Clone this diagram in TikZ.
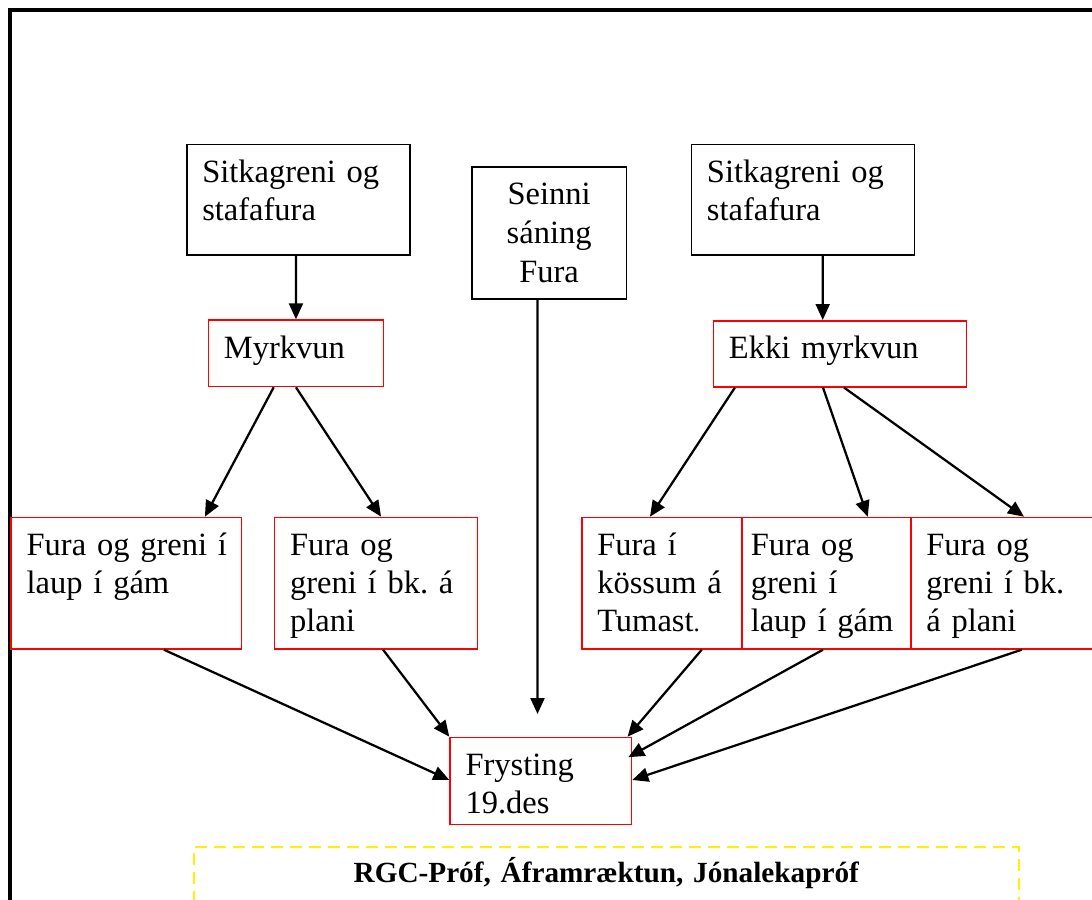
\documentclass[tikz,border=0pt]{standalone}
\usepackage{fontspec}
\setmainfont{Liberation Serif}
\usetikzlibrary{arrows.meta}

\begin{document}
\begin{tikzpicture}[x=0.4pt,y=-0.4pt,
  blackbox/.style={draw,line width=0.6pt,anchor=north west,align=left,inner xsep=6.2pt,inner ysep=6.2pt,text height=9pt,font=\fontsize{13}{15.2}\selectfont},
  redbox/.style={blackbox,draw=red},
  link/.style={-{Triangle[length=6.4pt,width=5.6pt]},line width=0.9pt}]
  \useasboundingbox (0,0) rectangle (1092,899);
  \draw[line width=1.6pt] (9.5,10.5) rectangle (1093.5,910);
  % top row
  \node[blackbox,text width=76.8pt,text depth=22.6pt] (sitkaL) at (186,144) {Sitkagreni og\\stafafura};
  \node[blackbox,align=center,text width=49.5pt,text depth=31.4pt,font=\fontsize{13}{15.6}\selectfont] (seinni) at (471,166) {Seinni\\sáning\\Fura};
  \node[blackbox,text width=76.9pt,text depth=22.6pt] (sitkaR) at (690.7,144) {Sitkagreni og\\stafafura};
  % treatment
  \node[redbox,text width=57.6pt,text depth=5.2pt] (myrk) at (207.7,319.3) {Myrkvun};
  \node[redbox,text width=88.8pt,text depth=5pt] (ekki) at (712.7,320) {Ekki myrkvun};
  % containers
  \node[redbox,text width=79.8pt,text depth=31.2pt] (laupL) at (10.4,516.7) {Fura~og~greni~í\\laup í gám};
  \node[redbox,text width=68.7pt,text depth=31.2pt] (planL) at (273.8,516.7) {Fura og\\greni~í~bk.~á\\plani};
  \node[redbox,text width=51.6pt,text depth=31.2pt] (kassar) at (581,516.7) {Fura í\\kössum~á\\Tumast{\fontsize{10}{12}\selectfont.}};
  \node[redbox,inner xsep=3.6pt,text width=60.4pt,text depth=31.2pt] (laupR) at (741,516.7) {Fura og\\greni í\\laup~í~gám};
  \node[redbox,text width=60.3pt,text depth=31.2pt] (planR) at (910,516.7) {Fura og\\greni~í~bk.\\á plani};
  % freezing and tests
  \node[redbox,text width=60.2pt,text depth=13.5pt] (frost) at (449.3,736.7) {Frysting\\19.des};
  \node[draw=yellow,dash pattern=on 4.8pt off 2.8pt,line width=0.8pt,anchor=north west,align=center,
    inner xsep=6.2pt,inner ysep=5.3pt,text width=317.6pt,text height=9pt,text depth=40pt,
    font=\fontsize{11.7}{14}\selectfont\bfseries] (prof) at (192.8,846) {RGC-Próf, Áframræktun, Jónalekapróf};
  \coordinate (seinniend) at (537.5,714);

  \draw[link] ([xshift=44pt]sitkaL.south west) -- ([xshift=35.3pt]myrk.north west);
  \draw[link] ([xshift=52.8pt]sitkaR.south west) -- ([xshift=44pt]ekki.north west);
  \draw[link] ([xshift=26.4pt]myrk.south west) -- ([xshift=77.8pt]laupL.north west);
  \draw[link] ([xshift=35.3pt]myrk.south west) -- ([xshift=42.9pt]planL.north west);
  \draw[link] ([xshift=8.9pt]ekki.south west) -- ([xshift=27.6pt]kassar.north west);
  \draw[link] ([xshift=44.1pt]ekki.south west) -- ([xshift=50.7pt]laupR.north west);
  \draw[link] ([xshift=52.5pt]ekki.south west) -- ([xshift=45.6pt]planR.north west);
  \draw[link] ([xshift=26.6pt]seinni.south west) -- (seinniend);
  \draw[link] ([xshift=61.4pt]laupL.south west) -- ([yshift=-17.3pt]frost.north west);
  \draw[link] ([xshift=43.7pt]planL.south west) -- (frost.north west);
  \draw[link] ([xshift=48.3pt]kassar.south west) -- ([xshift=-1.9pt]frost.north east);
  \draw[link] ([xshift=32.8pt]laupR.south west) -- ([xshift=-1.6pt,yshift=-8.2pt]frost.north east);
  \draw[link] ([xshift=44.7pt]planR.south west) -- ([yshift=-17.3pt]frost.north east);
\end{tikzpicture}
\end{document}
